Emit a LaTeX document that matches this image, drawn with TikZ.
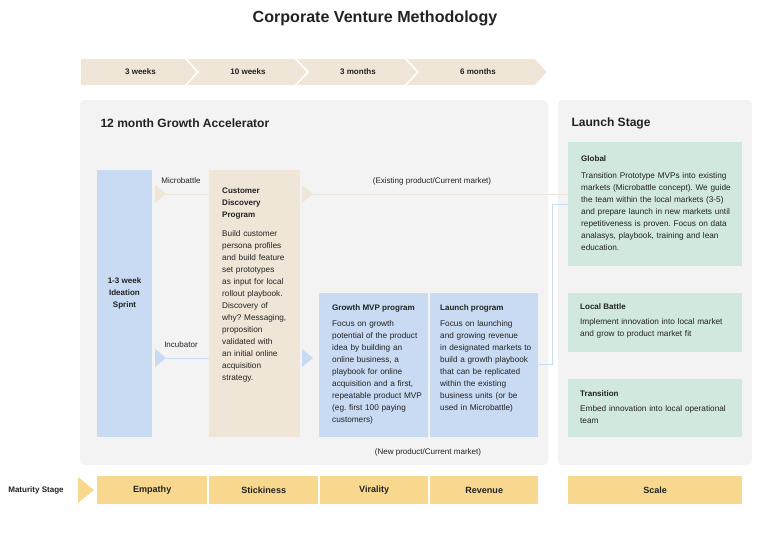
\documentclass[tikz,border=0pt]{standalone}
\usepackage{fontspec}
\setmainfont{Liberation Sans}
\usepackage{xcolor}
\hyphenpenalty=10000
\exhyphenpenalty=10000
\frenchspacing
\definecolor{panelgrey}{HTML}{F3F3F3}
\definecolor{sandfill}{HTML}{F0E6D8}
\definecolor{bluefill}{HTML}{C9DAF3}
\definecolor{greenfill}{HTML}{D1E8DF}
\definecolor{goldfill}{HTML}{F8D88E}
\definecolor{textgrey}{HTML}{222222}
\tikzset{
  panel/.style={fill=panelgrey, rounded corners=4pt, draw=none},
  block/.style={anchor=north west, inner sep=0pt, draw=none},
  boxtitle/.style={anchor=north west, inner sep=0pt, font=\fontsize{8}{12}\selectfont\bfseries, align=left},
  boxtext/.style={anchor=north west, inner sep=0pt, font=\fontsize{8.2}{12}\selectfont, align=left},
  small/.style={font=\fontsize{8}{10}\selectfont, text=textgrey},
  stagebox/.style={block, fill=goldfill, font=\fontsize{9}{11}\selectfont\bfseries, align=center},
  flow/.style={line width=0.8pt},
}
\begin{document}
\begin{tikzpicture}[x=0.35mm, y=-0.35mm, text=textgrey]
  \useasboundingbox (0,0) rectangle (770,540);

  % Titre
  \node[font=\fontsize{16}{18}\selectfont\bfseries] (title) at (375,18) {Corporate Venture Methodology};

  % Bande des durees
  \foreach \a/\b/\t [count=\i] in {80/185/3 weeks, 185/295/10 weeks, 295/405/3 months, 405/535/6 months} {
    \ifnum\i=1
      \fill[sandfill, draw=white, line width=1.5pt] (\a,58) -- (\b,58) -- (\b+13,72) -- (\b,86) -- (\a,86) -- cycle;
    \else
      \fill[sandfill, draw=white, line width=1.5pt] (\a,58) -- (\b,58) -- (\b+13,72) -- (\b,86) -- (\a,86) -- (\a+13,72) -- cycle;
    \fi
    \node[font=\fontsize{8}{10}\selectfont\bfseries] (dur\i) at ({(\a+\b)/2+8},72) {\t};
  }

  % Panneaux de fond
  \fill[panel] (80,100) rectangle (548,465);
  \fill[panel] (558,100) rectangle (752,465);
  \node[anchor=west, font=\fontsize{12}{14}\selectfont\bfseries] (acc) at (97,123) {12 month Growth Accelerator};
  \node[anchor=west, font=\fontsize{12}{14}\selectfont\bfseries] (launch) at (568,123) {Launch Stage};

  % Blocs du programme
  \node[block, fill=bluefill, minimum width=55*0.35mm, minimum height=267*0.35mm] (sprint) at (97,170) {};
  \node[font=\fontsize{8}{12}\selectfont\bfseries, align=center] (sprintlbl) at (124.5,293) {1-3 week\\Ideation\\Sprint};
  \node[block, fill=sandfill, minimum width=91*0.35mm, minimum height=267*0.35mm] (cdp) at (209,170) {};
  \node[block, fill=bluefill, minimum width=109*0.35mm, minimum height=144*0.35mm] (mvp) at (319,293) {};
  \node[block, fill=bluefill, minimum width=108*0.35mm, minimum height=144*0.35mm] (lp) at (430,293) {};

  % Textes des blocs
  \node[boxtitle, text width=60*0.35mm] (cdptitle) at (222,188) {Customer\\Discovery\\Program};
  \node[boxtext, text width=70*0.35mm] (cdptext) at (222,230) {Build customer persona profiles and build feature set prototypes as input for local rollout playbook. Discovery of why? Messaging, proposition validated with an initial online acquisition strategy.};
  \node[boxtitle] (mvptitle) at (332,304) {Growth MVP program};
  \node[boxtext, text width=90*0.35mm] (mvptext) at (332,320) {Focus on growth potential of the product idea by building an online business, a playbook for online acquisition and a first, repeatable product MVP (eg. first 100 paying customers)};
  \node[boxtitle] (lptitle) at (440,304) {Launch program};
  \node[boxtext, text width=92*0.35mm] (lptext) at (440,320) {Focus on launching and growing revenue in designated markets to build a growth playbook that can be replicated within the existing business units (or be used in Microbattle)};

  % Blocs du lancement
  \node[block, fill=greenfill, minimum width=174*0.35mm, minimum height=124*0.35mm] (global) at (568,142) {};
  \node[block, fill=greenfill, minimum width=174*0.35mm, minimum height=59*0.35mm] (local) at (568,293) {};
  \node[block, fill=greenfill, minimum width=174*0.35mm, minimum height=58*0.35mm] (trans) at (568,379) {};
  \node[boxtitle] (globaltitle) at (581,155) {Global};
  \node[boxtext, text width=155*0.35mm] (globaltext) at (581,172) {Transition Prototype MVPs into existing markets (Microbattle concept). We guide the team within the local markets (3-5) and prepare launch in new markets until repetitiveness is proven. Focus on data analasys, playbook, training and lean education.};
  \node[boxtitle] (localtitle) at (580,303) {Local Battle};
  \node[boxtext, text width=152*0.35mm] (localtext) at (580,318) {Implement innovation into local market and grow to product market fit};
  \node[boxtitle] (transtitle) at (580,390) {Transition};
  \node[boxtext, text width=152*0.35mm] (transtext) at (580,405) {Embed innovation into local operational team};

  % Fleches de liaison
  \coordinate (mbtip) at (166,194);
  \coordinate (inctip) at (166,358);
  \coordinate (extip) at (313,194);
  \coordinate (newtip) at (313,358);
  \coordinate (bend1) at (552,364);
  \coordinate (bend2) at (552,204);
  \fill[sandfill] (155,185) -- (mbtip) -- (155,203) -- cycle;
  \fill[bluefill] (155,349) -- (inctip) -- (155,367) -- cycle;
  \fill[sandfill] (302,185) -- (extip) -- (302,203) -- cycle;
  \fill[bluefill] (302,349) -- (newtip) -- (302,367) -- cycle;
  \draw[flow, sandfill] (mbtip) -- (cdp.west |- mbtip);
  \draw[flow, bluefill] (inctip) -- (cdp.west |- inctip);
  \draw[flow, sandfill] (extip) -- (global.west |- extip);
  \draw[flow, bluefill] (lp.east |- bend1) -- (bend1) -- (bend2) -- (global.west |- bend2);

  % Etiquettes des liaisons
  \node[small] (mblbl) at (181,181) {Microbattle};
  \node[small] (inclbl) at (181,345) {Incubator};
  \node[small] (exlbl) at (432,181) {(Existing product/Current market)};
  \node[small] (newlbl) at (428,452) {(New product/Current market)};

  % Etapes de maturite
  \node[font=\fontsize{8}{10}\selectfont\bfseries] (matlbl) at (36,490) {Maturity Stage};
  \fill[goldfill] (78,477) -- (94,490) -- (78,503) -- cycle;
  \foreach \x/\w/\t/\n in {97/110/Empathy/emp, 209/109/Stickiness/stk, 320/108/Virality/vir, 430/108/Revenue/rev, 568/174/Scale/scl} {
    \node[stagebox, minimum width=\w*0.35mm, minimum height=28*0.35mm] (\n) at (\x,476) {\t};
  }
\end{tikzpicture}
\end{document}
